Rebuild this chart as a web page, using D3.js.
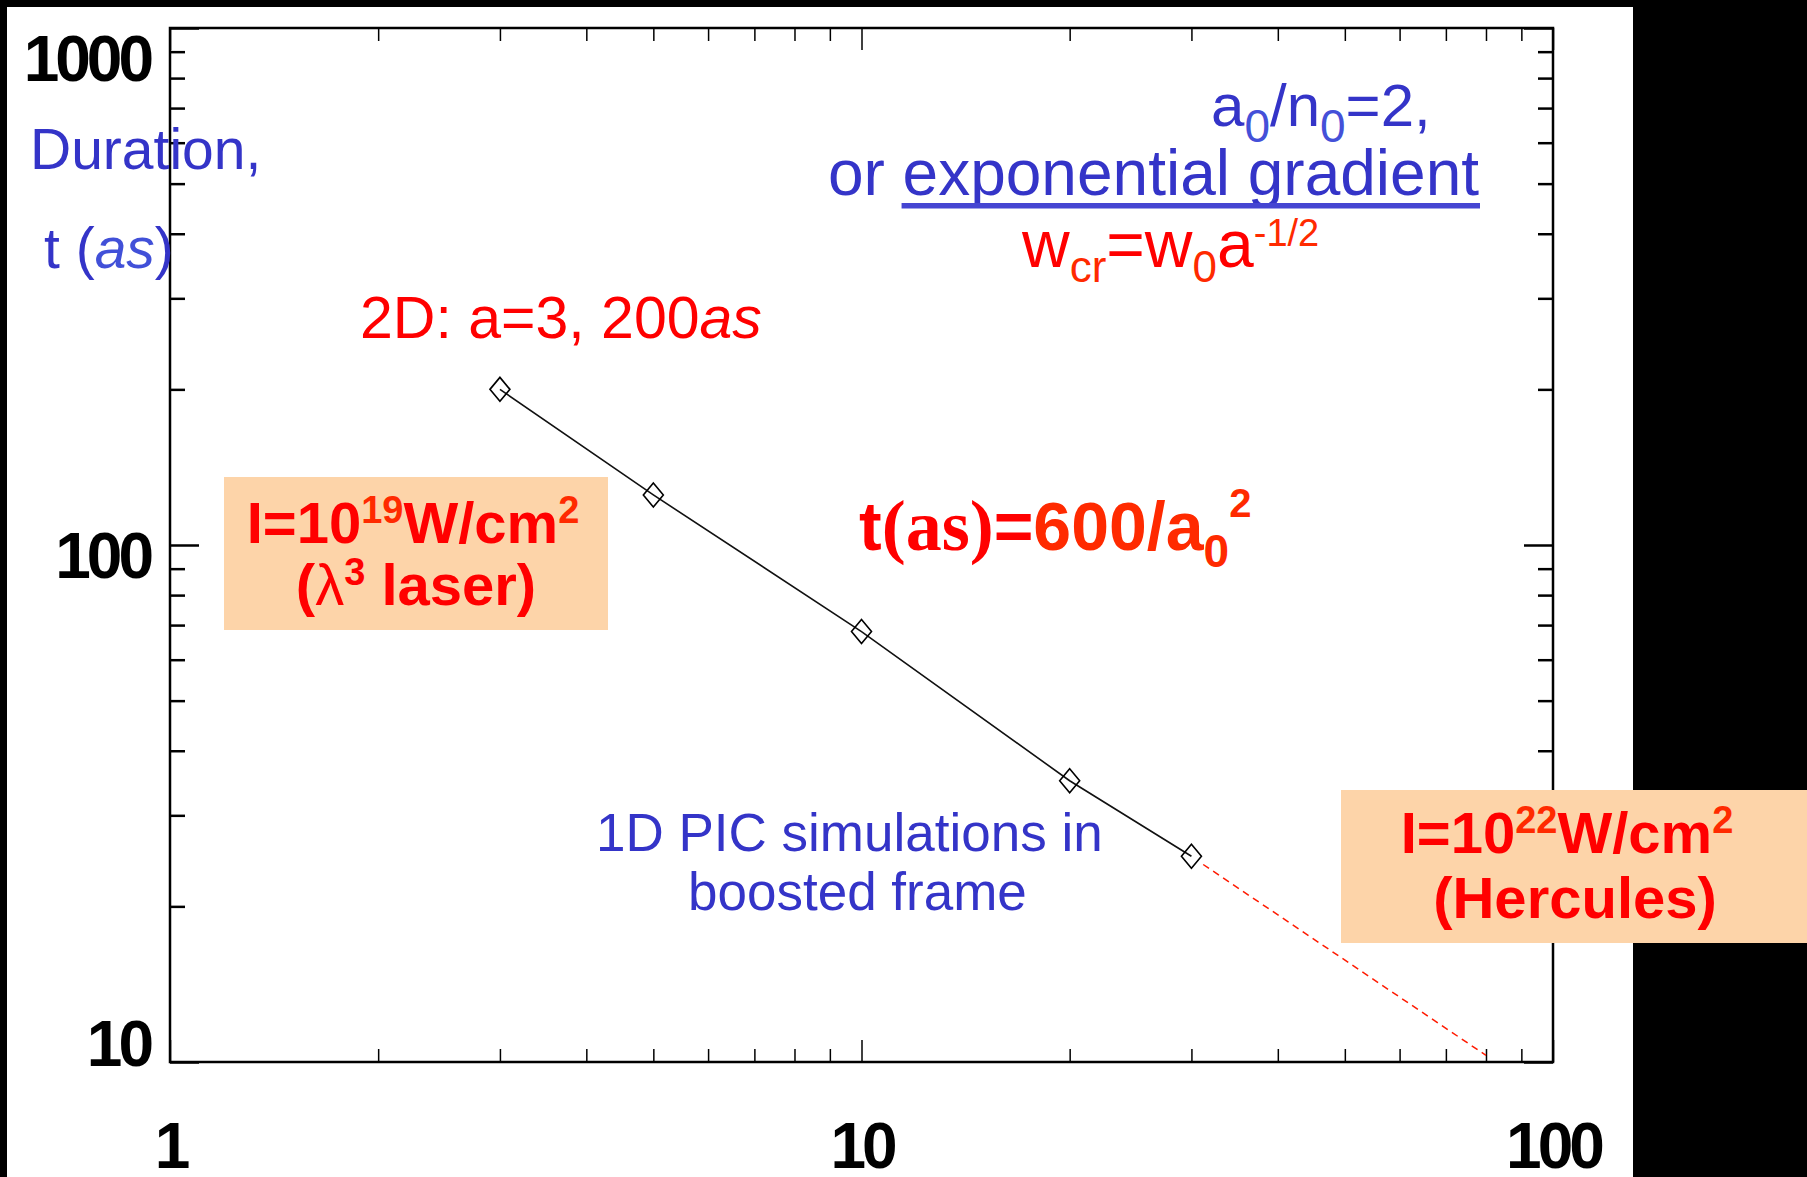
<!DOCTYPE html>
<html>
<head>
<meta charset="utf-8">
<script src="https://cdn.jsdelivr.net/npm/d3@7"></script>
<style>
  body { margin: 0; background: #000; }
  svg { display: block; }
  text { font-family: "Liberation Sans", Arial, sans-serif; white-space: pre; }
</style>
</head>
<body>
<script>
var w = 1807;
var h = 1177;

// simulation points: a0 vs pulse duration (as)
var a0 = [3, 5, 10, 20, 30];
var tAs = [200, 125, 68, 35, 25];

// extrapolation towards Hercules intensity (red dashed)
var extA = [31.2, 80];
var extT = [24.1, 10.3];

var xMajor = [1, 10, 100];
var xMinor = [2, 3, 4, 5, 6, 7, 8, 9, 20, 30, 40, 50, 60, 70, 80, 90];
var yMajor = [10, 100, 1000];
var yMinor = [20, 30, 40, 50, 60, 70, 80, 90, 200, 300, 400, 500, 600, 700, 800, 900];

var pLeft = 170, pRight = 1553, pTop = 28, pBottom = 1062;

var svg = d3.select("body").append("svg")
    .attr("width", w)
    .attr("height", h);

svg.append("rect").attr("width", w).attr("height", h).attr("fill", "#000");
svg.append("rect")
    .attr("x", 7).attr("y", 7)
    .attr("width", 1633 - 7).attr("height", h - 7)
    .attr("fill", "#fff");

var x = d3.scaleLog().domain([1, 100]).range([pLeft, pRight]);
var y = d3.scaleLog().domain([10, 1000]).range([pBottom, pTop]);

// ---- axes, IDL style: ticks inward on all four sides
function axisStyle(g, sw) {
  g.select(".domain").remove();
  g.selectAll("line").attr("stroke", "#000").attr("stroke-width", sw);
}

svg.append("g")
    .attr("transform", "translate(0," + pBottom + ")")
    .call(d3.axisBottom(x).tickValues(xMinor).tickSize(-13).tickFormat(""))
    .call(axisStyle, 1.5);
svg.append("g")
    .attr("transform", "translate(0," + pTop + ")")
    .call(d3.axisTop(x).tickValues(xMinor).tickSize(-13).tickFormat(""))
    .call(axisStyle, 1.5);
svg.append("g")
    .attr("transform", "translate(0," + pTop + ")")
    .call(d3.axisTop(x).tickValues(xMajor).tickSize(-22).tickFormat(""))
    .call(axisStyle, 1.5);

var xAxis = svg.append("g")
    .attr("transform", "translate(0," + pBottom + ")")
    .call(d3.axisBottom(x).tickValues(xMajor).tickSize(-22).tickPadding(60).tickFormat(d3.format("d")))
    .call(axisStyle, 1.5);
xAxis.selectAll("text")
    .attr("fill", "#000")
    .style("font-size", "64px")
    .style("font-weight", "bold")
    .style("letter-spacing", "-4px")
    .attr("dy", "0.72em");

svg.append("g")
    .attr("transform", "translate(" + pLeft + ",0)")
    .call(d3.axisLeft(y).tickValues(yMinor).tickSize(-15).tickFormat(""))
    .call(axisStyle, 2.5);
svg.append("g")
    .attr("transform", "translate(" + pRight + ",0)")
    .call(d3.axisRight(y).tickValues(yMinor).tickSize(-15).tickFormat(""))
    .call(axisStyle, 2.5);
svg.append("g")
    .attr("transform", "translate(" + pRight + ",0)")
    .call(d3.axisRight(y).tickValues(yMajor).tickSize(-29).tickFormat(""))
    .call(axisStyle, 2.5);

var yAxis = svg.append("g")
    .attr("transform", "translate(" + pLeft + ",0)")
    .call(d3.axisLeft(y).tickValues(yMajor).tickSize(-29).tickPadding(20).tickFormat(d3.format("d")))
    .call(axisStyle, 2.5);
// labels kept inside the frame height, like IDL does
yAxis.selectAll("text")
    .attr("fill", "#000")
    .style("font-size", "64px")
    .style("font-weight", "bold")
    .style("letter-spacing", "-4px")
    .attr("dy", null)
    .attr("y", function(d) {
      var ty = y(d);
      return Math.min(Math.max(ty + 32, pTop + 52), pBottom + 3) - ty;
    });

svg.append("rect")
    .attr("x", pLeft).attr("y", pTop)
    .attr("width", pRight - pLeft).attr("height", pBottom - pTop)
    .attr("fill", "none")
    .attr("stroke", "#000")
    .attr("stroke-width", 2.5);

// ---- data
var pts = a0.map(function(d, i) { return [d, tAs[i]]; });
var ext = extA.map(function(d, i) { return [d, extT[i]]; });

var line = d3.line()
    .x(function(d) { return x(d[0]); })
    .y(function(d) { return y(d[1]); });

svg.append("path")
    .datum(pts)
    .attr("d", line)
    .attr("fill", "none")
    .attr("stroke", "#111")
    .attr("stroke-width", 1.6);

svg.append("path")
    .datum(ext)
    .attr("d", line)
    .attr("fill", "none")
    .attr("stroke", "#ff1a00")
    .attr("stroke-width", 1.5)
    .attr("stroke-dasharray", "7,5");

svg.selectAll("path.pt")
    .data(pts)
    .enter()
    .append("path")
    .attr("class", "pt")
    .attr("transform", function(d) { return "translate(" + x(d[0]) + "," + y(d[1]) + ")"; })
    .attr("d", "M0,-12L10,0L0,12L-10,0Z")
    .attr("fill", "none")
    .attr("stroke", "#000")
    .attr("stroke-width", 1.6);

// ---- annotations
var blue = "#3434c8";
var red = "#ff0000";
var orange = "#ff2a00";

function rich(px, py, size, fill, parts, opts) {
  opts = opts || {};
  var t = svg.append("text")
      .attr("x", px).attr("y", py)
      .attr("fill", fill)
      .style("font-size", size + "px");
  if (opts.weight) t.style("font-weight", opts.weight);
  if (opts.anchor) t.attr("text-anchor", opts.anchor);
  var shift = 0;
  parts.forEach(function(p) {
    var s = p.shift || 0;
    var ts = t.append("tspan").text(p.t).attr("dy", s - shift);
    shift = s;
    if (p.size) ts.style("font-size", p.size + "px");
    if (p.fill) ts.attr("fill", p.fill);
    if (p.italic) ts.style("font-style", "italic");
    if (p.family) ts.style("font-family", p.family);
    if (p.weight) ts.style("font-weight", p.weight);
  });
  return t;
}

rich(30, 169, 57, blue, [{t: "Duration,"}]);
rich(44, 268, 57, blue, [{t: "t ("}, {t: "as", italic: true, fill: "#4150d8"}, {t: ")"}]);

rich(1211, 126, 60, blue, [
  {t: "a"}, {t: "0", size: 46, shift: 16, fill: "#4450d8"},
  {t: "/n"}, {t: "0", size: 46, shift: 16, fill: "#4450d8"},
  {t: "=2,"}
]);
var grad = rich(1479, 195, 64, blue, [{t: "or exponential gradient"}], {anchor: "end"});
// underline from the "e" of exponential to the end of the line
var ux0 = grad.node().getStartPositionOfChar(3).x;
svg.append("rect")
    .attr("x", ux0 - 1).attr("y", 203)
    .attr("width", 1481 - ux0).attr("height", 5.5)
    .attr("fill", "#4545d2");

rich(1022, 267, 66, red, [
  {t: "w"}, {t: "cr", size: 44, shift: 15, fill: orange},
  {t: "=w"}, {t: "0", size: 44, shift: 15, fill: orange},
  {t: "a"}, {t: "-1/2", size: 38, shift: -21, fill: orange}
]);

rich(360, 338, 59, red, [{t: "2D: a=3, 200"}, {t: "as", italic: true}]);

rich(859, 550, 68, red, [
  {t: "t"},
  {t: "(as)", family: "'Liberation Serif', 'Times New Roman', serif", size: 72, weight: "bold"},
  {t: "="}, {t: "600/a", fill: orange},
  {t: "0", size: 46, shift: 17, fill: orange},
  {t: "2", size: 40, shift: -33, fill: orange}
], {weight: "bold"});

rich(596, 851, 53, blue, [{t: "1D PIC simulations in"}]);
rich(688, 910, 53, blue, [{t: "boosted frame"}]);

// peach boxes with intensities
var peach = "#fdd4a9";
svg.append("rect").attr("x", 224).attr("y", 477).attr("width", 608 - 224).attr("height", 630 - 477).attr("fill", peach);
svg.append("rect").attr("x", 1341).attr("y", 790).attr("width", w - 1341).attr("height", 943 - 790).attr("fill", peach);

rich(413, 543, 58, red, [
  {t: "I=10"}, {t: "19", size: 38, shift: -20, fill: orange}, {t: "W/cm", shift: 0},
  {t: "2", size: 38, shift: -20, fill: orange}
], {weight: "bold", anchor: "middle"});
rich(416, 605, 58, red, [
  {t: "("}, {t: "λ", weight: "normal"}, {t: "3", size: 38, shift: -20}, {t: " laser)", shift: 0}
], {weight: "bold", anchor: "middle"});

rich(1567, 853, 58, red, [
  {t: "I=10"}, {t: "22", size: 38, shift: -20, fill: orange}, {t: "W/cm", shift: 0},
  {t: "2", size: 38, shift: -20, fill: orange}
], {weight: "bold", anchor: "middle"});
rich(1575, 918, 58, red, [{t: "(Hercules)"}], {weight: "bold", anchor: "middle"});
</script>
</body>
</html>
